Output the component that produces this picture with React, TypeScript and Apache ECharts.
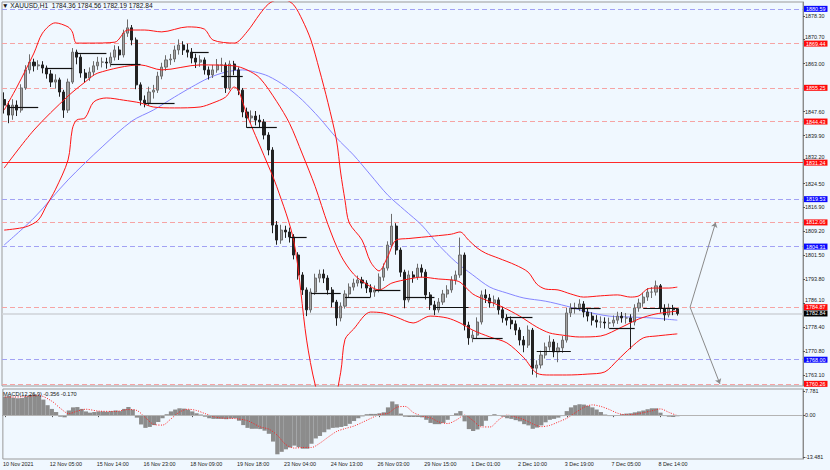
import React, { useEffect, useRef } from "react";
import * as echarts from "echarts";

const FONT = '"Liberation Sans", Arial, sans-serif';

// [open, close, low, high] per 3-hour candle
const candles: number[][] = [
  [1851.5, 1849.7, 1847.0, 1853.8], [1849.7, 1846.5, 1843.9, 1851.0], [1846.5, 1849.7, 1845.0, 1851.6], [1849.7, 1848.1, 1846.2, 1851.2],
  [1848.1, 1855.2, 1847.3, 1856.4], [1855.2, 1861.0, 1854.6, 1862.5], [1861.0, 1863.5, 1859.8, 1866.0], [1863.5, 1862.3, 1860.5, 1864.6],
  [1862.3, 1862.6, 1861.0, 1864.1], [1862.6, 1861.6, 1859.9, 1863.8], [1861.6, 1859.7, 1858.2, 1862.4], [1859.7, 1857.1, 1855.5, 1861.0],
  [1857.1, 1857.8, 1855.0, 1859.6], [1857.8, 1853.9, 1852.4, 1858.5], [1853.9, 1848.1, 1845.6, 1854.6], [1848.1, 1857.1, 1847.2, 1858.2],
  [1857.1, 1866.7, 1856.5, 1868.0], [1866.7, 1865.1, 1862.8, 1867.5], [1865.1, 1860.0, 1858.5, 1866.0], [1860.0, 1858.4, 1856.9, 1861.3],
  [1858.4, 1860.3, 1857.5, 1861.8], [1860.3, 1862.3, 1859.1, 1863.8], [1862.3, 1863.5, 1861.0, 1865.2], [1863.5, 1863.5, 1861.8, 1865.0],
  [1863.5, 1863.2, 1861.4, 1864.9], [1863.2, 1865.1, 1862.0, 1866.6], [1865.1, 1867.4, 1864.0, 1868.9], [1867.4, 1865.8, 1864.2, 1868.6],
  [1865.8, 1872.8, 1865.0, 1873.9], [1872.8, 1874.5, 1871.6, 1877.2], [1874.5, 1870.6, 1868.9, 1875.4], [1870.6, 1856.2, 1854.8, 1871.4],
  [1856.2, 1851.3, 1849.6, 1857.0], [1851.3, 1850.4, 1849.0, 1852.8], [1850.4, 1853.9, 1849.5, 1855.6], [1853.9, 1854.5, 1851.8, 1856.2],
  [1854.5, 1859.0, 1853.6, 1860.4], [1859.0, 1861.9, 1858.0, 1863.3], [1861.9, 1864.2, 1860.7, 1865.7], [1864.2, 1864.5, 1862.6, 1866.1],
  [1864.5, 1867.4, 1863.5, 1868.8], [1867.4, 1869.0, 1865.9, 1870.8], [1869.0, 1867.4, 1865.8, 1870.2], [1867.4, 1866.7, 1865.0, 1869.4],
  [1866.7, 1864.8, 1863.1, 1868.0], [1864.8, 1863.5, 1861.6, 1866.2], [1863.5, 1864.2, 1862.0, 1865.7], [1864.2, 1861.0, 1859.5, 1865.0],
  [1861.0, 1859.4, 1857.9, 1862.1], [1859.4, 1861.0, 1858.4, 1862.6], [1861.0, 1862.6, 1860.1, 1864.5], [1862.6, 1862.6, 1860.3, 1864.9],
  [1862.6, 1855.2, 1853.6, 1863.4], [1855.2, 1862.9, 1854.5, 1864.0], [1862.9, 1861.0, 1859.3, 1863.9], [1861.0, 1854.5, 1852.9, 1861.8],
  [1854.5, 1847.5, 1845.8, 1855.2], [1847.5, 1845.6, 1842.4, 1848.9], [1845.6, 1846.2, 1843.8, 1848.0], [1846.2, 1844.9, 1843.2, 1847.8],
  [1844.9, 1844.3, 1842.5, 1846.6], [1844.3, 1840.1, 1838.7, 1845.2], [1840.1, 1835.3, 1833.6, 1841.0], [1835.3, 1811.2, 1808.6, 1836.2],
  [1811.2, 1806.4, 1804.9, 1812.5], [1806.4, 1809.6, 1805.2, 1811.3], [1809.6, 1809.0, 1807.1, 1811.0], [1809.0, 1807.4, 1805.6, 1810.4],
  [1807.4, 1801.6, 1800.2, 1808.3], [1801.6, 1795.2, 1793.7, 1802.5], [1795.2, 1790.4, 1788.8, 1796.1], [1790.4, 1784.0, 1782.0, 1791.2],
  [1784.0, 1789.7, 1783.1, 1790.9], [1789.7, 1794.2, 1788.8, 1795.6], [1794.2, 1795.5, 1792.8, 1796.9], [1795.5, 1794.2, 1792.6, 1797.0],
  [1794.2, 1790.4, 1788.9, 1795.1], [1790.4, 1786.5, 1784.8, 1791.3], [1786.5, 1781.4, 1778.9, 1787.2], [1781.4, 1785.2, 1780.3, 1786.4],
  [1785.2, 1789.1, 1784.4, 1790.3], [1789.1, 1791.3, 1788.0, 1792.5], [1791.3, 1792.6, 1790.2, 1794.0], [1792.6, 1793.6, 1791.5, 1795.0],
  [1793.6, 1792.6, 1790.9, 1794.6], [1792.6, 1791.0, 1789.4, 1793.5], [1791.0, 1789.7, 1788.1, 1792.2], [1789.7, 1790.4, 1788.2, 1791.8],
  [1790.4, 1794.5, 1789.6, 1795.7], [1794.5, 1797.4, 1793.3, 1798.9], [1797.4, 1804.8, 1796.6, 1806.0], [1804.8, 1810.9, 1803.9, 1814.8],
  [1810.9, 1803.2, 1801.7, 1811.8], [1803.2, 1796.1, 1794.6, 1804.0], [1796.1, 1787.2, 1784.5, 1796.9], [1787.2, 1795.2, 1786.4, 1796.6],
  [1795.2, 1794.5, 1792.7, 1796.4], [1794.5, 1797.4, 1793.6, 1798.8], [1797.4, 1796.1, 1794.4, 1798.6], [1796.1, 1788.8, 1787.3, 1797.0],
  [1788.8, 1785.6, 1784.0, 1789.7], [1785.6, 1784.0, 1782.3, 1786.9], [1784.0, 1786.5, 1783.1, 1787.8], [1786.5, 1789.1, 1785.6, 1790.4],
  [1789.1, 1790.4, 1787.9, 1791.9], [1790.4, 1793.6, 1789.5, 1794.8], [1793.6, 1795.2, 1792.1, 1796.6], [1795.2, 1801.6, 1794.3, 1807.2],
  [1801.6, 1779.1, 1777.4, 1802.4], [1779.1, 1775.0, 1772.8, 1780.2], [1775.0, 1775.9, 1773.6, 1777.4], [1775.9, 1780.1, 1774.8, 1781.6],
  [1780.1, 1788.8, 1779.3, 1790.2], [1788.8, 1787.8, 1786.2, 1790.6], [1787.8, 1786.2, 1784.7, 1789.1], [1786.2, 1787.2, 1785.1, 1788.6],
  [1787.2, 1784.0, 1782.5, 1788.0], [1784.0, 1781.4, 1779.9, 1785.0], [1781.4, 1780.7, 1779.0, 1782.6], [1780.7, 1779.5, 1777.8, 1781.9],
  [1779.5, 1777.5, 1775.9, 1780.6], [1777.5, 1774.3, 1772.6, 1778.4], [1774.3, 1772.7, 1770.4, 1775.6], [1772.7, 1777.5, 1771.8, 1779.0],
  [1777.5, 1765.3, 1763.2, 1778.2], [1765.3, 1766.3, 1762.3, 1767.8], [1766.3, 1769.5, 1765.2, 1770.9], [1769.5, 1772.1, 1768.4, 1773.5],
  [1772.1, 1773.7, 1770.9, 1775.8], [1773.7, 1770.5, 1768.8, 1774.6], [1770.5, 1771.8, 1767.2, 1773.4], [1771.8, 1774.3, 1770.2, 1775.6],
  [1774.3, 1783.0, 1773.5, 1784.6], [1783.0, 1784.6, 1781.7, 1786.1], [1784.6, 1784.6, 1782.8, 1786.3], [1784.6, 1785.9, 1783.6, 1787.4],
  [1785.9, 1783.3, 1781.6, 1786.8], [1783.3, 1782.0, 1780.3, 1784.5], [1782.0, 1780.7, 1779.0, 1783.2], [1780.7, 1780.1, 1778.3, 1782.3],
  [1780.1, 1780.1, 1778.2, 1781.9], [1780.1, 1779.8, 1778.0, 1781.6], [1779.8, 1779.8, 1778.1, 1781.5], [1779.8, 1780.7, 1778.6, 1782.2],
  [1780.7, 1782.0, 1779.5, 1783.4], [1782.0, 1781.4, 1779.9, 1783.3], [1781.4, 1781.4, 1779.6, 1783.0], [1781.4, 1780.1, 1771.4, 1782.6],
  [1780.1, 1784.6, 1779.0, 1785.8], [1784.6, 1786.2, 1783.4, 1787.6], [1786.2, 1788.1, 1785.0, 1789.5], [1788.1, 1789.7, 1786.9, 1791.0],
  [1789.7, 1789.7, 1787.8, 1791.3], [1789.7, 1791.7, 1788.6, 1793.4], [1791.7, 1784.6, 1783.1, 1792.3], [1784.6, 1782.4, 1780.5, 1785.8],
  [1782.4, 1784.6, 1781.6, 1786.0], [1784.6, 1784.0, 1782.3, 1785.6], [1784.36, 1782.84, 1782.19, 1784.56],
];

// Bollinger bands and moving average, read as [candle index, price]
const upperBand: number[][] = [
  [0, 1848.1], [3, 1855.5], [7, 1866.4], [9, 1872.8], [12, 1876.1], [15, 1874.8], [16, 1873.2], [17, 1869.6], [20, 1869.6],
  [26, 1869.9], [29, 1873.8], [33, 1873.8], [37, 1873.2], [43, 1874.8], [47, 1874.1], [49, 1870.6], [54, 1869.6], [57, 1873.2],
  [60, 1878.9], [62, 1882.1], [64, 1883.4], [66, 1883.4], [68, 1881.8], [70, 1877.0], [72, 1870.6], [74, 1861.0], [76, 1850.5],
  [78, 1838.5], [79, 1827.9], [80, 1819.2], [81, 1811.9], [84, 1806.4], [86, 1799.4], [88, 1796.5], [90, 1801.0], [92, 1806.4],
  [95, 1806.9], [101, 1807.7], [105, 1808.3], [107, 1809.0], [109, 1806.4], [111, 1803.9], [113, 1802.2], [116, 1800.6],
  [120, 1798.4], [123, 1796.1], [125, 1792.3], [127, 1790.7], [130, 1790.4], [133, 1789.1], [136, 1788.1], [140, 1788.5],
  [144, 1788.8], [147, 1788.1], [149, 1788.5], [151, 1790.7], [153, 1791.0], [156, 1791.0], [158, 1791.3],
];
const middleBand: number[][] = [
  [0, 1829.5], [7, 1841.7], [15, 1852.6], [19, 1857.1], [22, 1860.0], [32, 1862.6], [37, 1861.0], [46, 1862.6], [54, 1862.3],
  [57, 1861.0], [60, 1858.4], [64, 1850.8], [67, 1843.8], [70, 1834.0], [73, 1823.6], [76, 1811.4], [79, 1801.5], [82, 1795.5],
  [85, 1792.3], [88, 1790.4], [91, 1792.6], [95, 1793.9], [98, 1794.5], [102, 1793.9], [105, 1793.6], [107, 1792.9],
  [110, 1789.1], [113, 1787.2], [117, 1784.9], [121, 1782.0], [125, 1778.5], [128, 1776.6], [131, 1775.9], [135, 1775.3],
  [140, 1775.6], [145, 1778.5], [149, 1781.1], [153, 1782.7], [158, 1783.6],
];
const lowerBand: number[][] = [
  [0, 1809.6], [5, 1810.6], [8, 1812.8], [10, 1817.6], [12, 1822.5], [15, 1832.1], [16, 1842.0], [17, 1844.9], [19, 1845.6],
  [21, 1850.7], [24, 1852.0], [28, 1851.3], [32, 1850.4], [35, 1849.1], [40, 1848.8], [46, 1849.1], [49, 1850.4], [52, 1852.3],
  [54, 1855.5], [55, 1854.5], [57, 1846.5], [61, 1833.5], [64, 1823.5], [68, 1806.0], [71, 1774.3], [73, 1760.0], [75, 1752.5],
  [77, 1753.0], [79, 1764.0], [80, 1774.5], [82, 1777.8], [86, 1783.3], [89, 1783.0], [92, 1781.7], [96, 1779.8], [100, 1782.0],
  [104, 1781.4], [107, 1779.8], [110, 1777.5], [114, 1775.3], [118, 1773.4], [122, 1768.6], [125, 1763.7], [128, 1763.1],
  [132, 1763.1], [137, 1763.4], [141, 1764.1], [144, 1767.9], [147, 1771.8], [150, 1775.0], [153, 1775.6], [158, 1776.3],
];
const movingAverage: number[][] = [
  [0, 1804.8], [7, 1813.5], [15, 1825.7], [23, 1836.3], [30, 1844.6], [35, 1848.1], [40, 1852.3], [44, 1855.5], [48, 1858.4],
  [52, 1860.3], [56, 1861.0], [59, 1860.3], [62, 1859.0], [66, 1855.8], [70, 1851.3], [74, 1845.6], [78, 1839.2], [82, 1833.7],
  [86, 1827.3], [90, 1820.9], [94, 1816.0], [98, 1811.2], [102, 1804.8], [106, 1799.4], [110, 1795.2], [114, 1791.3],
  [118, 1789.4], [122, 1787.8], [127, 1786.8], [132, 1785.2], [137, 1783.3], [142, 1782.0], [147, 1781.7], [152, 1781.4],
  [158, 1780.7],
];

// Daily open segments: [from candle, to candle, price]
const dailyOpens: number[][] = [
  [1, 8, 1849.1], [10, 16, 1861.6], [17, 24, 1866.4], [25, 32, 1862.9], [33, 40, 1850.4], [44, 48, 1866.7], [51, 56, 1859.0],
  [57, 64, 1842.7], [67, 71, 1807.4], [72, 79, 1789.4], [80, 86, 1788.1], [87, 93, 1790.4], [94, 101, 1788.1], [101, 109, 1785.0],
  [110, 117, 1775.0], [118, 124, 1781.7], [125, 133, 1770.8], [133, 140, 1784.6], [142, 148, 1778.2], [150, 158, 1784.6],
];

// Horizontal levels
const blueLevels = [1880.59, 1819.53, 1804.31, 1768.0];
const redDashedLevels = [1869.44, 1855.25, 1844.43, 1812.06, 1784.87, 1760.26];
const redSolidLevels = [1831.24];
const lastPrice = 1782.84;

// Projection arrows: [from candle, from price, to candle, to price]
const projections: number[][] = [
  [161, 1784.87, 167, 1812.06],
  [161, 1784.87, 168, 1760.26],
];

// MACD histogram (main line) and signal
const macdHist = [
  6.0, 6.2, 5.6, 5.4, 5.5, 6.0, 6.5, 6.7, 6.2, 5.0,
  3.2, 2.0, 1.0, -0.5, -0.7, 1.5, 2.5, 2.6, 2.0, 1.2,
  0.8, 1.0, 1.2, 1.2, 1.1, 1.3, 1.5, 1.3, 2.0, 2.6,
  1.8, -0.8, -3.0, -4.1, -3.8, -3.2, -2.2, -1.0, 0.3, 1.2,
  1.8, 2.2, 2.1, 1.8, 1.2, 0.6, 0.2, -0.5, -1.0, -1.2,
  -1.2, -1.2, -1.3, -1.1, -1.0, -1.8, -3.2, -4.1, -4.4, -4.4,
  -4.5, -5.0, -6.0, -8.5, -12.6, -11.8, -11.0, -10.4, -9.8, -10.3,
  -10.8, -10.8, -9.2, -7.5, -6.7, -5.5, -4.6, -4.1, -4.0, -3.8,
  -3.5, -2.8, -1.9, -1.0, -0.4, 0.3, 0.4, 0.4, 0.6, 0.9,
  2.5, 4.4, 3.5, 0.5, -0.5, -0.6, -0.6, -0.6, -0.7, -1.5,
  -2.5, -2.9, -2.9, -2.5, -1.5, -0.2, 0.6, 1.3, -2.0, -4.5,
  -5.1, -4.6, -3.5, -1.8, -0.3, 0.3, 0.0, -0.5, -1.0, -1.2,
  -1.6, -2.0, -2.9, -3.3, -4.4, -4.0, -3.3, -2.3, -1.5, -1.2,
  -0.8, -0.3, 1.3, 2.5, 3.2, 3.5, 3.4, 3.0, 2.5, 1.8,
  1.0, 0.2, -0.3, -0.3, 0.0, 0.3, 0.5, 0.6, 0.9, 1.2,
  1.5, 1.9, 2.2, 2.2, 0.8, -0.3, -0.5, -0.6, -0.356,
];
const macdSignal: number[][] = [
  [0, 5.8], [4, 5.9], [8, 6.3], [11, 4.5], [13, 2.2], [15, 0.5], [17, 1.3], [19, 1.9], [22, 1.3], [26, 1.2], [29, 1.8],
  [31, 1.5], [33, -0.8], [35, -3.0], [37, -3.2], [39, -1.2], [41, 1.0], [43, 1.9], [45, 1.5], [47, 0.5], [50, -0.8],
  [54, -1.1], [57, -1.8], [60, -3.8], [62, -4.5], [64, -6.5], [66, -9.5], [68, -10.6], [70, -10.4], [72, -10.4], [74, -9.0],
  [76, -7.0], [78, -5.2], [80, -4.3], [82, -3.5], [84, -2.3], [86, -1.0], [88, 0.2], [90, 0.6], [92, 2.5], [94, 2.8],
  [96, 0.8], [98, -0.3], [100, -0.9], [102, -2.2], [104, -2.7], [106, -1.6], [108, 0.0], [110, -1.8], [112, -3.8],
  [114, -3.8], [116, -1.5], [118, 0.0], [120, -0.6], [122, -1.5], [124, -2.8], [126, -3.7], [128, -3.3], [130, -2.2],
  [132, -1.0], [134, 0.8], [136, 2.5], [138, 3.3], [140, 2.8], [142, 1.8], [144, 0.6], [146, 0.1], [148, 0.3], [150, 0.8],
  [152, 1.4], [154, 2.0], [156, 0.9], [158, -0.17],
];

// Axes
const categoryCount = 188;
const categories = Array.from({ length: categoryCount }, (_, i) => String(i));
const timeLabels = [
  "10 Nov 2021", "12 Nov 05:00", "15 Nov 14:00", "16 Nov 23:00", "18 Nov 09:00", "19 Nov 18:00", "23 Nov 04:00",
  "24 Nov 13:00", "26 Nov 03:00", "29 Nov 15:00", "1 Dec 01:00", "2 Dec 10:00", "3 Dec 19:00", "7 Dec 05:00", "8 Dec 14:00",
];
const labelEvery = 11;
const priceTicks = [
  1878.3, 1870.7, 1863.0, 1847.6, 1839.9, 1832.2, 1824.5, 1816.9, 1809.2, 1801.5, 1793.8, 1786.1, 1778.4, 1770.8, 1763.1,
];
// tick labels that sit just above a coloured level box
const raisedTicks = [1870.7, 1832.2, 1786.1];
const macdTicks = [7.781, 0, -13.481];
const macdTickText = ["7.781", "0.00", "-13.481"];

const headerText = "\u25BC XAUUSD,H1  1784.36 1784.56 1782.19 1782.84";
const macdText = "MACD(12,26,9) -0.356 -0.170";

export default function App() {
  const ref = useRef<HTMLDivElement>(null);
  useEffect(() => {
    if (!ref.current) return;
    const chart = echarts.init(ref.current, undefined, { renderer: "svg" });
    const fs = 5.4;
    const levelLabel = (bg: string) => ({
      show: true,
      position: "end",
      distance: 1,
      color: "#ffffff",
      backgroundColor: bg,
      fontSize: fs,
      fontFamily: FONT,
      padding: [1, 2, 0, 2],
      formatter: (p: any) => Number(p.value).toFixed(2),
    });
    const levelData: any[] = [
      ...blueLevels.map((v) => ({
        yAxis: v,
        lineStyle: { color: "#a2a2f4", type: [5, 3], width: 1 },
        label: levelLabel("#0a0aff"),
      })),
      ...redDashedLevels.map((v) => ({
        yAxis: v,
        lineStyle: { color: "#f6a4a4", type: [5, 3], width: 1 },
        label: levelLabel("#ff0a0a"),
      })),
      ...redSolidLevels.map((v) => ({
        yAxis: v,
        lineStyle: { color: "#ff2a2a", type: "solid", width: 1 },
        label: levelLabel("#ff0a0a"),
      })),
      {
        yAxis: lastPrice,
        lineStyle: { color: "#cfd3d8", type: "solid", width: 1.5 },
        label: levelLabel("#000000"),
      },
    ];

    const showLabel = (idx: number) => idx % labelEvery === 0 && idx / labelEvery < timeLabels.length;

    const option: any = {
      animation: false,
      backgroundColor: "#f0f8ff",
      textStyle: { fontFamily: FONT },
      title: [
        {
          text: headerText,
          left: 2,
          top: 2,
          padding: 0,
          textStyle: { fontSize: 6.6, fontWeight: "normal", color: "#111", fontFamily: FONT },
        },
        {
          text: macdText,
          left: 3,
          top: 391,
          padding: 0,
          textStyle: { fontSize: 5.6, fontWeight: "normal", color: "#111", fontFamily: FONT },
        },
      ],
      grid: [
        { left: 2, right: 27, top: 2, height: 384, show: true, borderColor: "#9a9a9a", borderWidth: 1, backgroundColor: "transparent" },
        { left: 2, right: 27, top: 389, height: 70, show: true, borderColor: "#9a9a9a", borderWidth: 1, backgroundColor: "transparent" },
      ],
      xAxis: [
        {
          type: "category",
          gridIndex: 0,
          data: categories,
          axisLine: { show: false },
          axisTick: { show: false },
          axisLabel: { show: false },
          splitLine: { show: false },
        },
        {
          type: "category",
          gridIndex: 1,
          data: categories,
          axisLine: { show: true, lineStyle: { color: "#8a8a8a" } },
          axisTick: {
            show: true,
            interval: (idx: number) => showLabel(idx),
            alignWithLabel: true,
            length: 2,
            lineStyle: { color: "#555" },
          },
          axisLabel: {
            show: true,
            interval: (idx: number) => showLabel(idx),
            formatter: (_v: string, idx: number) => timeLabels[idx / labelEvery] ?? "",
            align: "left",
            margin: 2,
            fontSize: fs,
            color: "#1a1a1a",
            fontFamily: FONT,
            padding: [0, 0, 0, -2],
          },
          splitLine: { show: false },
        },
      ],
      yAxis: [
        {
          type: "value",
          gridIndex: 0,
          position: "right",
          min: 1759.57,
          max: 1882.79,
          axisLine: { show: true, lineStyle: { color: "#8a8a8a" } },
          axisTick: { show: true, length: 2, customValues: priceTicks, lineStyle: { color: "#555" } },
          axisLabel: {
            show: true,
            customValues: priceTicks,
            formatter: (v: number) => {
              const t = v.toFixed(2);
              return raisedTicks.some((r) => Math.abs(r - v) < 1e-6) ? `{up|${t}}` : t;
            },
            margin: 2,
            fontSize: fs,
            color: "#1a1a1a",
            fontFamily: FONT,
            rich: {
              up: { fontSize: fs, color: "#1a1a1a", fontFamily: FONT, padding: [0, 0, 6, 0] },
            },
          },
          splitLine: { show: false },
        },
        {
          type: "value",
          gridIndex: 1,
          position: "right",
          min: -14.11,
          max: 8.41,
          axisLine: { show: true, lineStyle: { color: "#8a8a8a" } },
          axisTick: { show: true, length: 2, customValues: macdTicks, lineStyle: { color: "#555" } },
          axisLabel: {
            show: true,
            customValues: macdTicks,
            formatter: (v: number) => {
              const k = macdTicks.findIndex((t) => Math.abs(t - v) < 1e-6);
              return k >= 0 ? macdTickText[k] : String(v);
            },
            margin: 2,
            fontSize: fs,
            color: "#1a1a1a",
            fontFamily: FONT,
          },
          splitLine: { show: false },
        },
      ],
      series: [
        {
          name: "Price",
          type: "candlestick",
          xAxisIndex: 0,
          yAxisIndex: 0,
          data: candles,
          barWidth: 2.6,
          itemStyle: {
            color: "#a4a4a4",
            color0: "#222222",
            borderColor: "#6c6c6c",
            borderColor0: "#222222",
            borderWidth: 1,
          },
          markLine: {
            silent: true,
            symbol: ["none", "none"],
            label: { show: false },
            lineStyle: { color: "#111111", width: 1.2, type: "solid" },
            data: dailyOpens.map(([a, b, v]) => [{ coord: [a, v] }, { coord: [b, v] }]),
          },
          z: 3,
        },
        {
          name: "Upper",
          type: "line",
          xAxisIndex: 0,
          yAxisIndex: 0,
          data: upperBand,
          showSymbol: false,
          smooth: 0.3,
          clip: true,
          lineStyle: { color: "#ff1414", width: 1 },
          z: 4,
        },
        {
          name: "Middle",
          type: "line",
          xAxisIndex: 0,
          yAxisIndex: 0,
          data: middleBand,
          showSymbol: false,
          smooth: 0.3,
          clip: true,
          lineStyle: { color: "#ff1414", width: 1 },
          z: 4,
          markLine: {
            silent: true,
            symbol: ["none", "arrow"],
            symbolSize: 5,
            label: { show: false },
            lineStyle: { color: "#8a8a8a", width: 1, type: "solid" },
            data: projections.map(([a, v, b, w]) => [{ coord: [a, v] }, { coord: [b, w] }]),
          },
        },
        {
          name: "Lower",
          type: "line",
          xAxisIndex: 0,
          yAxisIndex: 0,
          data: lowerBand,
          showSymbol: false,
          smooth: 0.3,
          clip: true,
          lineStyle: { color: "#ff1414", width: 1 },
          z: 4,
        },
        {
          name: "MA",
          type: "line",
          xAxisIndex: 0,
          yAxisIndex: 0,
          data: movingAverage,
          showSymbol: false,
          smooth: 0.3,
          clip: true,
          lineStyle: { color: "#8585ff", width: 1 },
          z: 2,
          markLine: {
            silent: true,
            symbol: ["none", "none"],
            data: levelData,
            z: 1,
          },
        },
        {
          name: "MACD",
          type: "bar",
          xAxisIndex: 1,
          yAxisIndex: 1,
          data: macdHist,
          barCategoryGap: "0%",
          itemStyle: { color: "#8c8c8c" },
          markLine: {
            silent: true,
            symbol: ["none", "none"],
            label: { show: false },
            lineStyle: { color: "#b4b4b4", width: 1, type: "solid" },
            data: [{ yAxis: 0 }],
          },
        },
        {
          name: "Signal",
          type: "line",
          xAxisIndex: 1,
          yAxisIndex: 1,
          data: macdSignal,
          showSymbol: false,
          smooth: 0.3,
          lineStyle: { color: "#ff2020", width: 1, type: [1, 1.5] },
          z: 4,
        },
      ],
    };
    chart.setOption(option);
    return () => chart.dispose();
  }, []);
  return (
    <div
      ref={ref}
      style={{ position: "fixed", left: 0, top: 0, width: 830, height: 470, background: "#f0f8ff" }}
    />
  );
}
